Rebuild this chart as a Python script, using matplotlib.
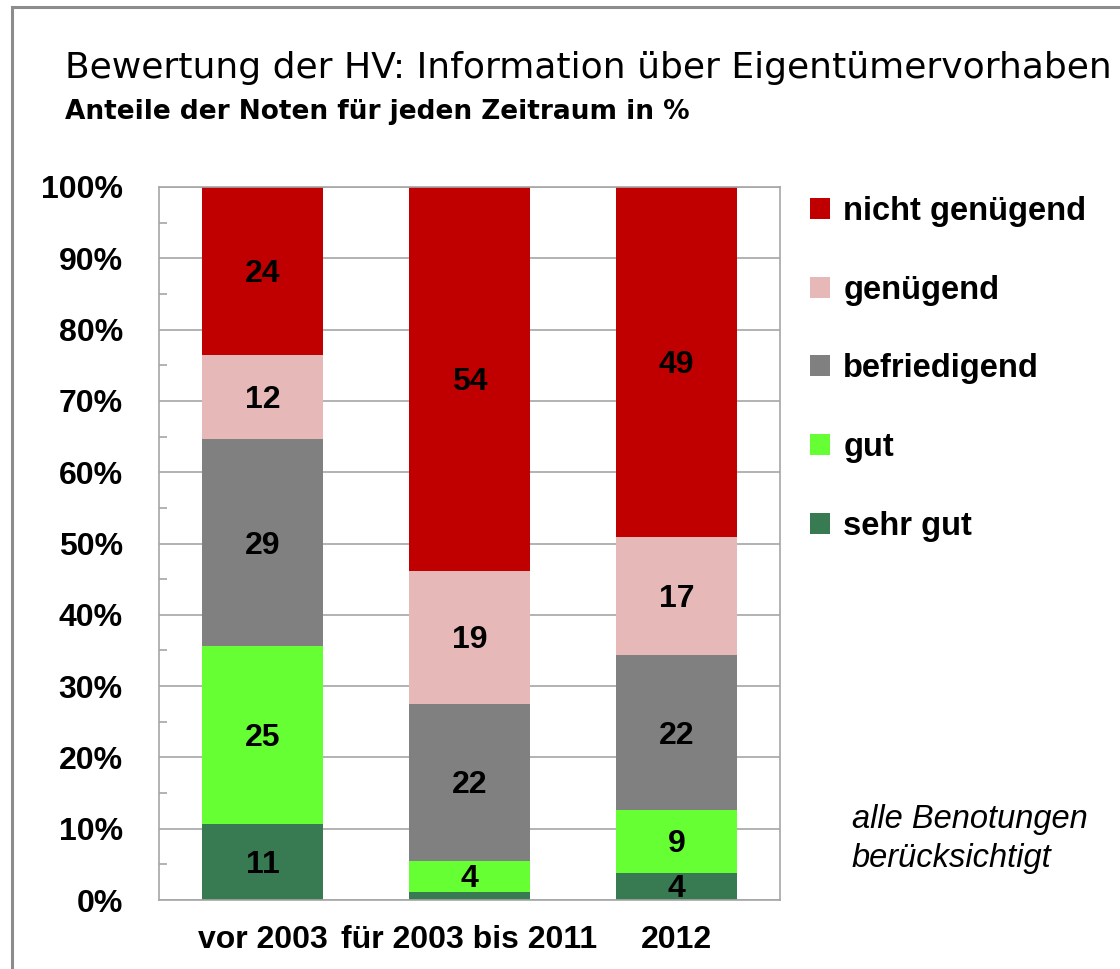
import matplotlib
matplotlib.use('Agg')
import matplotlib.pyplot as plt
import matplotlib.patches as mpatches
from matplotlib.ticker import MultipleLocator
import numpy as np

# Data (shares of grades per period, in %)
periods = ['vor 2003', 'für 2003 bis 2011', '2012']
grades = ['sehr gut', 'gut', 'befriedigend', 'genügend', 'nicht genügend']
sehr_gut = [10.6, 1.1, 3.8]
gut = [25.0, 4.4, 8.8]
befriedigend = [29.0, 22.0, 21.7]
genuegend = [11.8, 18.6, 16.6]
nicht_genuegend = [23.6, 53.9, 49.1]
colors = ['#387A52', '#66FF33', '#808080', '#E6B9B8', '#C00000']

plt.rcParams['font.family'] = ['Liberation Sans', 'DejaVu Sans']

W, H = 1120, 969
fig = plt.figure(figsize=(W / 100, H / 100), dpi=100)

# grey frame around the whole chart (right/bottom run off the picture)
frame = mpatches.Rectangle((12 / W, -0.1), 2, 1.1 - 7 / H, transform=fig.transFigure,
                           fill=False, edgecolor='#8c8c8c', linewidth=2.2)
fig.patches.append(frame)

ax = fig.add_axes([159 / W, 1 - 900 / H, 621 / W, 713 / H])

series = [sehr_gut, gut, befriedigend, genuegend, nicht_genuegend]
x = np.arange(len(periods))
bottom = np.zeros(len(periods))
handles = []
for name, vals, col in zip(grades, series, colors):
    vals = np.array(vals)
    bars = ax.bar(x, vals, 0.585, bottom=bottom, color=col, label=name, zorder=2)
    handles.append(bars)
    for xi, b, v in zip(x, bottom, vals):
        if v >= 2:
            ax.text(xi, b + v / 2 - 0.4, f'{v:.0f}', ha='center', va='center',
                    fontsize=23, fontweight='bold', color='black', zorder=3)
    bottom += vals

ax.set_xlim(-0.5, 2.5)
ax.set_ylim(0, 100)
ax.set_yticks(np.arange(0, 101, 10))
ax.set_yticklabels([f'{v}%' for v in range(0, 101, 10)])
ax.yaxis.set_minor_locator(MultipleLocator(5))
ax.set_xticks(x)
ax.set_xticklabels(periods)

grid_col = '#a6a6a6'
ax.yaxis.grid(True, color=grid_col, linewidth=1.2)
ax.set_axisbelow(True)
for sp in ax.spines.values():
    sp.set_color(grid_col)
    sp.set_linewidth(1.2)

ax.tick_params(axis='y', which='major', length=0, pad=26, labelsize=23)
ax.tick_params(axis='y', which='minor', direction='in', length=6, width=1.2, color=grid_col)
ax.tick_params(axis='x', length=0, pad=18, labelsize=23)
for lab in ax.get_xticklabels() + ax.get_yticklabels():
    lab.set_fontweight('bold')

# legend, top grade first
ax.legend(handles[::-1], grades[::-1], loc='upper left',
          bbox_to_anchor=(810 / W, 1 - 196 / H), bbox_transform=fig.transFigure,
          frameon=False, prop={'weight': 'bold', 'size': 23.5},
          handlelength=0.62, handleheight=0.62, handletextpad=0.4,
          labelspacing=1.46, borderpad=0, borderaxespad=0)

# titles
fig.text(65 / W, 1 - 68 / H, 'Bewertung der HV: Information über Eigentümervorhaben',
         family='DejaVu Sans', fontsize=26, va='center', ha='left')
fig.text(65 / W, 1 - 112 / H, 'Anteile der Noten für jeden Zeitraum in %',
         family='DejaVu Sans', fontweight='bold', fontsize=19, va='center', ha='left')

fig.text(852 / W, 1 - 839 / H, 'alle Benotungen\nberücksichtigt', style='italic',
         fontsize=23.5, va='center', ha='left', linespacing=1.3)

fig.savefig('out.png', dpi=100)
